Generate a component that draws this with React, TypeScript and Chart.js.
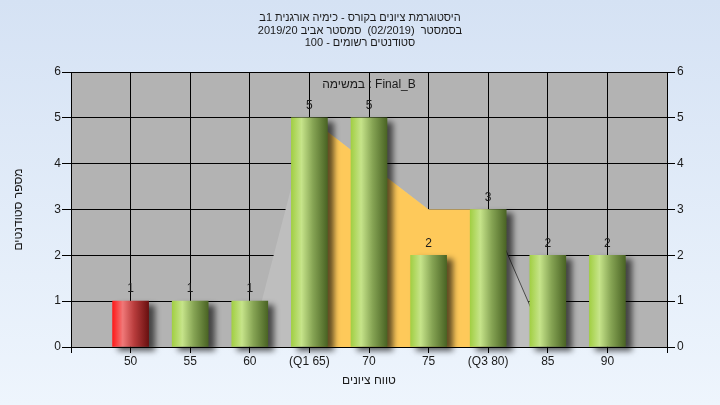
import React, { useEffect, useRef } from 'react';
import { Chart, registerables } from 'chart.js';

Chart.register(...registerables);

// ---- data ----
const categories = ['', '50', '55', '60', '(Q1 65)', '70', '75', '(Q3 80)', '85', '90', ''];
const studentCounts = [null, 1, 1, 1, 5, 5, 2, 3, 2, 2, null];
const distributionOutline = [null, null, null, 0, 5, 4, 3, 3, 0, null, null];
const interquartileBand = [null, null, null, null, 5, 4, 3, 3, null, null, null];
const upperTail = [null, null, null, null, null, null, null, 3, 0, null, null];
const failingCategories = ['50'];
const yMin = 0;
const yMax = 6;
const yStep = 1;

// ---- text (rendered in a right-to-left paragraph) ----
const titleLines = [
  'היסטוגרמת ציונים בקורס - כימיה אורגנית 1ב',
  'בסמסטר  (02/2019)  סמסטר אביב 2019/20',
  'סטודנטים רשומים - 100',
];
const xTitle = 'טווח ציונים';
const yTitle = 'מספר סטודנטים';
const legendText = 'במשימה : Final_B';

const FONT_FAMILY = "'Liberation Sans', Arial, sans-serif";
const TEXT_COLOR = '#1a1a1a';

export default function App() {
  const ref = useRef<HTMLCanvasElement>(null);

  useEffect(() => {
    document.body.style.margin = '0';
    const canvas = ref.current!;
    const font = { family: FONT_FAMILY, size: 12 };

    const plotBackground = {
      id: 'plotBackground',
      beforeDraw(chart: any) {
        const { ctx, chartArea } = chart;
        ctx.save();
        ctx.fillStyle = '#b3b3b3';
        ctx.fillRect(chartArea.left, chartArea.top, chartArea.right - chartArea.left, chartArea.bottom - chartArea.top);
        ctx.restore();
      },
    };

    const barShadow = {
      id: 'barShadow',
      beforeDatasetDraw(chart: any, args: any) {
        if (args.meta.type === 'bar') {
          const c = chart.ctx;
          c.save();
          c.shadowColor = 'rgba(0,0,0,0.62)';
          c.shadowBlur = 6;
          c.shadowOffsetX = 6;
          c.shadowOffsetY = 4;
        }
      },
      afterDatasetDraw(chart: any, args: any) {
        if (args.meta.type === 'bar') chart.ctx.restore();
      },
    };

    const labelsPlugin = {
      id: 'labelsPlugin',
      afterDatasetsDraw(chart: any) {
        const { ctx, chartArea } = chart;
        ctx.save();
        ctx.direction = 'ltr';
        ctx.font = `12px ${FONT_FAMILY}`;
        ctx.fillStyle = TEXT_COLOR;
        ctx.textAlign = 'center';
        ctx.textBaseline = 'middle';
        chart.data.datasets.forEach((ds: any, di: number) => {
          const meta = chart.getDatasetMeta(di);
          if (meta.type !== 'bar') return;
          meta.data.forEach((el: any, i: number) => {
            const v = ds.data[i];
            if (v === null || v === undefined) return;
            ctx.fillText(String(v), el.x, el.y - 12);
          });
        });
        ctx.fillText(legendText, (chartArea.left + chartArea.right) / 2, chartArea.top + 13);
        ctx.restore();
      },
    };

    const barColor = (context: any) => {
      const chart = context.chart;
      const xScale = chart.scales.x;
      const isFail = failingCategories.includes(categories[context.dataIndex]);
      const x = xScale && context.dataIndex !== undefined ? xScale.getPixelForValue(context.dataIndex) : NaN;
      if (!Number.isFinite(x)) return isFail ? '#d03030' : '#9cc84a';
      const g = chart.ctx.createLinearGradient(x - 18, 0, x + 18, 0);
      if (isFail) {
        g.addColorStop(0, '#ff1a1a');
        g.addColorStop(0.28, '#f07878');
        g.addColorStop(0.6, '#b83c3c');
        g.addColorStop(1, '#6a1010');
      } else {
        g.addColorStop(0, '#a2cf44');
        g.addColorStop(0.28, '#c6e48a');
        g.addColorStop(0.6, '#86a454');
        g.addColorStop(1, '#4a6424');
      }
      return g;
    };

    const chart = new Chart(canvas, {
      type: 'bar',
      data: {
        labels: categories,
        datasets: [
          {
            type: 'bar',
            data: studentCounts,
            backgroundColor: barColor,
            borderWidth: 0,
            barThickness: 36,
            clip: false,
            order: 0,
          } as any,
          {
            type: 'line',
            data: upperTail,
            borderColor: '#4a4a4a',
            borderWidth: 1,
            pointRadius: 0,
            fill: false,
            order: 1,
          },
          {
            type: 'line',
            data: interquartileBand,
            borderColor: 'transparent',
            borderWidth: 0,
            backgroundColor: '#fec95a',
            pointRadius: 0,
            fill: 'origin',
            order: 2,
          },
          {
            type: 'line',
            data: distributionOutline,
            borderColor: 'transparent',
            borderWidth: 0,
            backgroundColor: '#bebebe',
            pointRadius: 0,
            fill: 'origin',
            order: 3,
          },
        ],
      },
      options: {
        responsive: false,
        animation: false,
        devicePixelRatio: 1,
        layout: { padding: 0 },
        plugins: {
          legend: { display: false },
          tooltip: { enabled: false },
          title: {
            display: true,
            text: titleLines,
            color: TEXT_COLOR,
            font: { family: FONT_FAMILY, size: 11, weight: 'normal', lineHeight: 1.18 },
            padding: { top: 11, bottom: 22.06 },
          },
        },
        scales: {
          x: {
            type: 'category',
            offset: false,
            grid: { offset: false, color: '#000', lineWidth: 1, tickLength: 6, drawTicks: true },
            border: { color: '#000' },
            ticks: { color: TEXT_COLOR, font, padding: 1, autoSkip: false, maxRotation: 0 },
            title: { display: true, text: xTitle, color: TEXT_COLOR, font, padding: { top: 0, bottom: 17 } },
            afterFit(s: any) { s.height = 58; },
          },
          y: {
            position: 'left',
            min: yMin,
            max: yMax,
            ticks: { stepSize: yStep, color: TEXT_COLOR, font, padding: 1 },
            grid: { color: '#000', tickLength: 9 },
            border: { color: '#000' },
            title: { display: true, text: yTitle, color: TEXT_COLOR, font, padding: { top: 11, bottom: 0 } },
            afterFit(s: any) { s.width = 71; },
          },
          y2: {
            position: 'right',
            min: yMin,
            max: yMax,
            ticks: { stepSize: yStep, color: TEXT_COLOR, font, padding: 2 },
            grid: { drawOnChartArea: false, color: '#000', tickLength: 8 },
            border: { color: '#000' },
            afterFit(s: any) { s.width = 53; },
          },
        },
      } as any,
      plugins: [plotBackground, barShadow, labelsPlugin],
    });

    return () => chart.destroy();
  }, []);

  return (
    <div
      style={{
        width: 720,
        height: 405,
        background: 'linear-gradient(to bottom, #d5e2f4, #eef5fd)',
      }}
    >
      <canvas ref={ref} width={720} height={405} style={{ display: 'block', direction: 'rtl' }} />
    </div>
  );
}
